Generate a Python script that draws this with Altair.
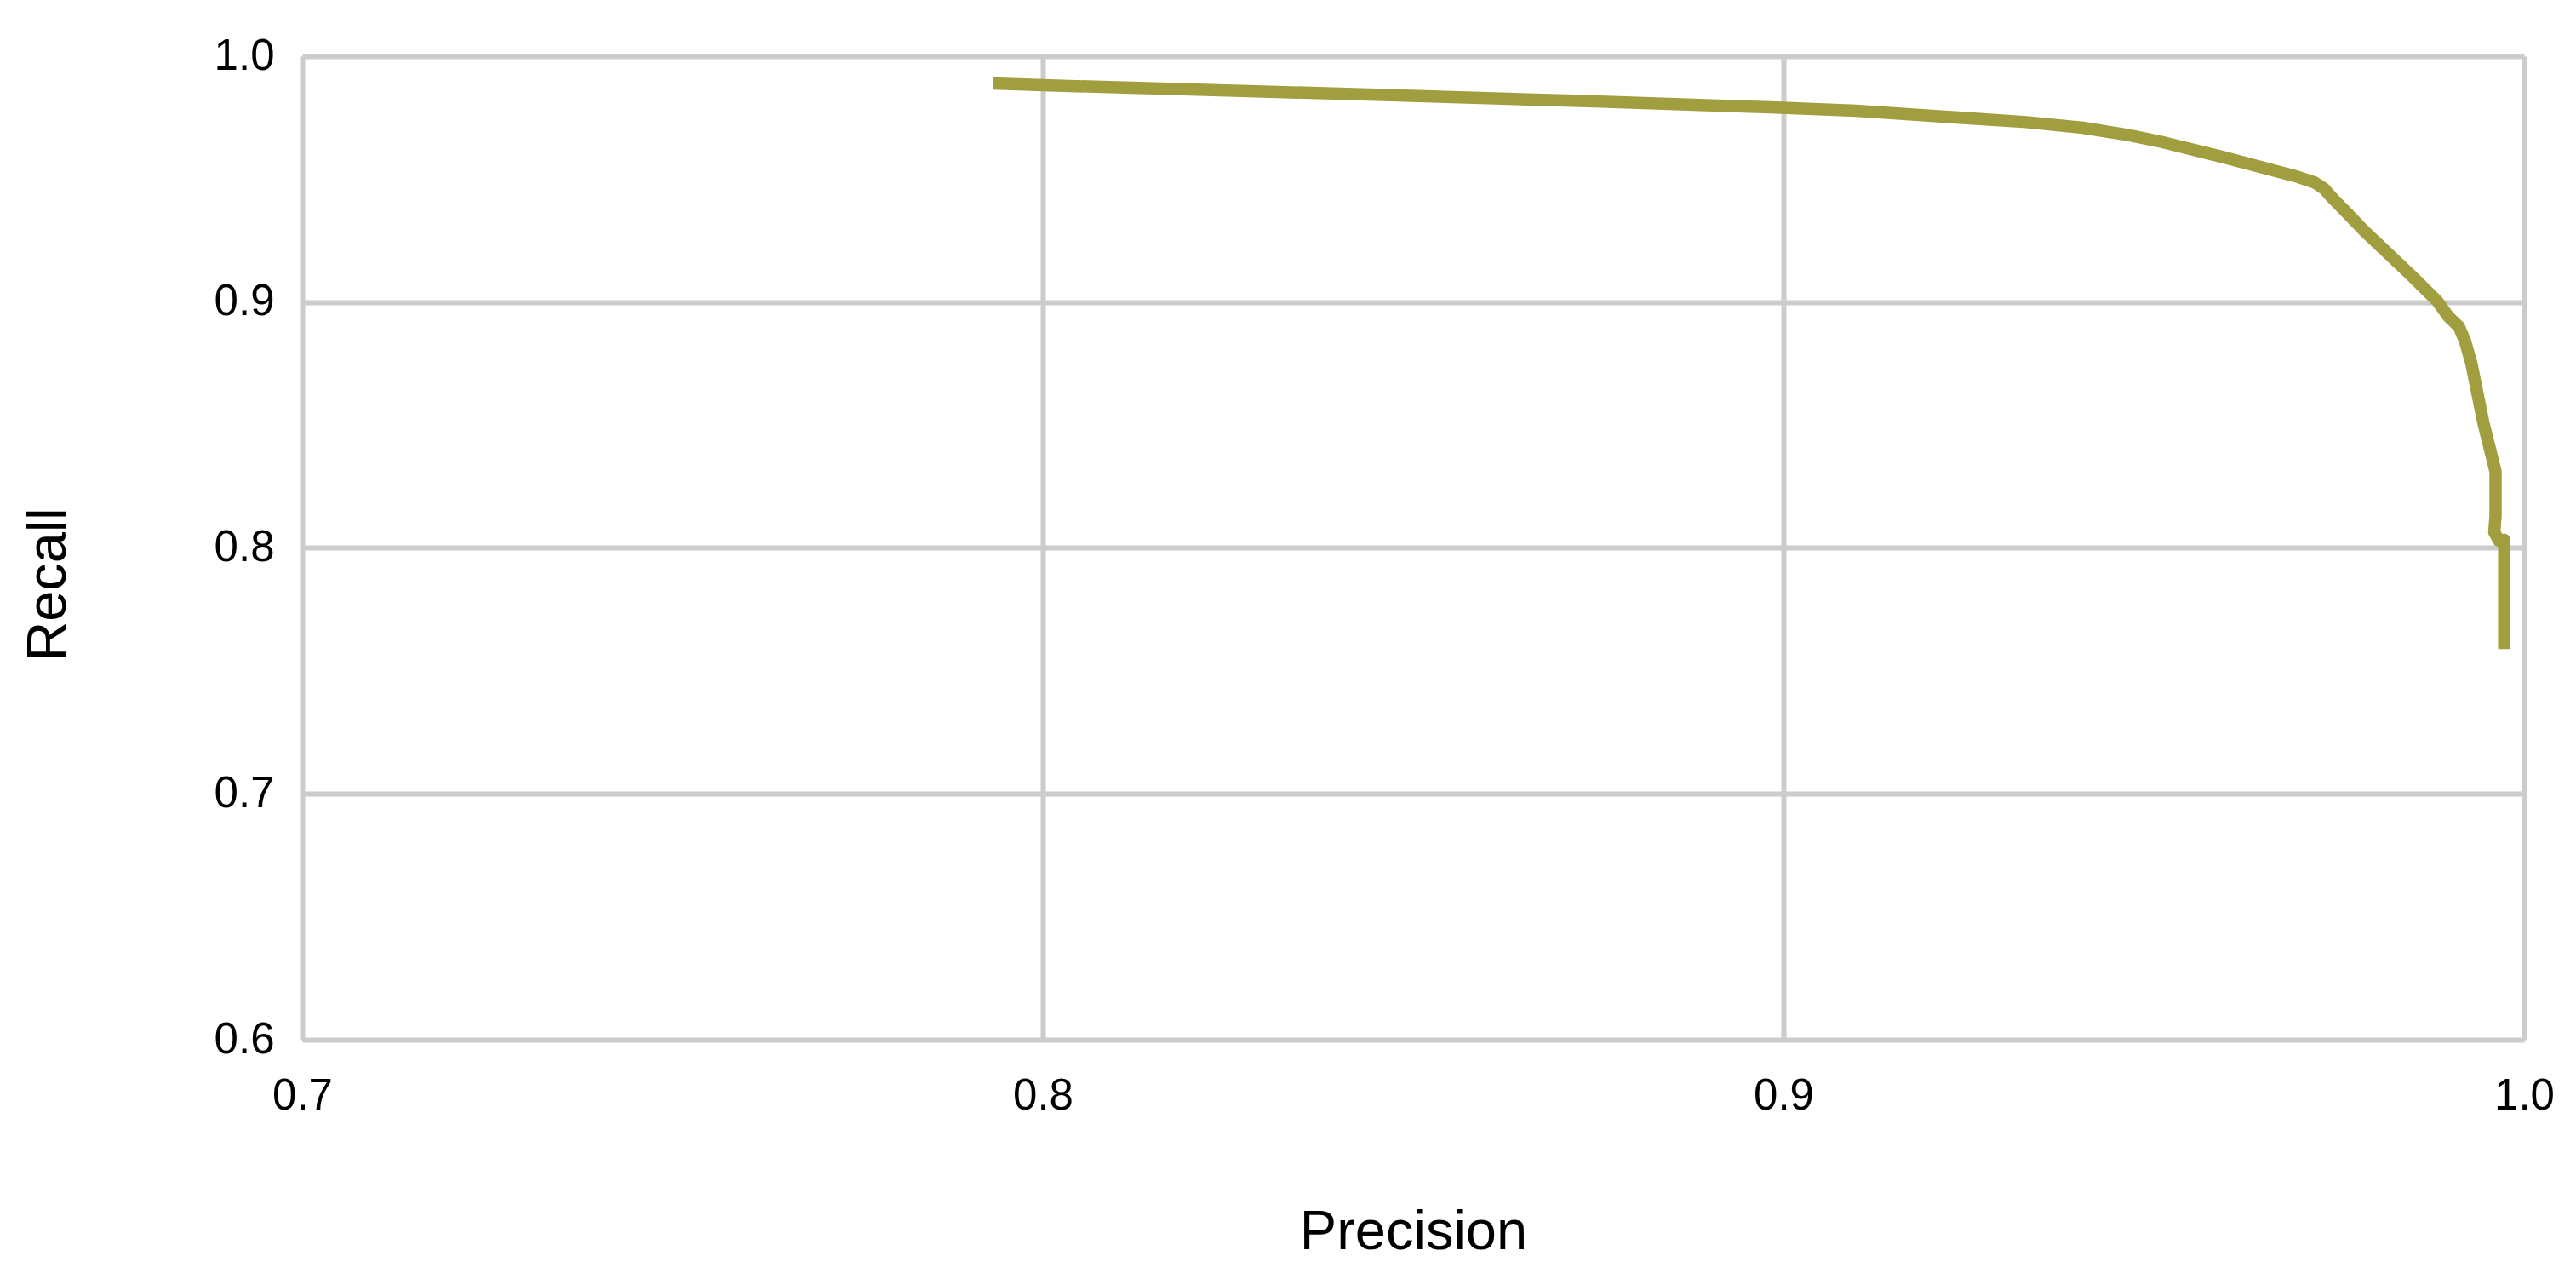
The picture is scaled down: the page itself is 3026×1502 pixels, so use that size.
import altair as alt
import pandas as pd

precision = [0.7933, 0.8000, 0.8431, 0.8736, 0.8983, 0.9098, 0.9213, 0.9328,
             0.9404, 0.9466, 0.9511, 0.9592, 0.9695, 0.9718, 0.9730, 0.9741,
             0.9764, 0.9784, 0.9848, 0.9883, 0.9898, 0.9912, 0.9920, 0.9929,
             0.9945, 0.99615, 0.99615, 0.99598, 0.9966, 0.99732, 0.99732]
recall = [0.9889, 0.9882, 0.9845, 0.9817, 0.9792, 0.9778, 0.9755, 0.9732,
          0.9709, 0.9679, 0.9651, 0.9591, 0.9509, 0.9485, 0.9461, 0.9424,
          0.9353, 0.9290, 0.9107, 0.9003, 0.8940, 0.8900, 0.8844, 0.8749,
          0.8510, 0.8311, 0.8130, 0.8064, 0.8030, 0.8033, 0.7589]

x_ticks = [0.7, 0.8, 0.9, 1.0]
y_ticks = [0.6, 0.7, 0.8, 0.9, 1.0]

df = pd.DataFrame({"precision": precision, "recall": recall,
                   "order": list(range(len(precision)))})

FONT = "Liberation Sans"

chart = alt.Chart(df).mark_line(
    color="#a19e40", strokeWidth=14.5, strokeJoin="round", clip=True
).encode(
    x=alt.X("precision:Q",
            scale=alt.Scale(domain=[0.7, 1.0], nice=False, zero=False),
            axis=alt.Axis(values=x_ticks, format=".1f", title="Precision",
                          grid=True, gridColor="#cccccc", gridWidth=6,
                          domain=False, ticks=False, tickSize=0,
                          labelFlush=False, labelOverlap=False,
                          labelFont=FONT, labelFontSize=51, labelColor="#000000",
                          labelPadding=41,
                          titleFont=FONT, titleFontSize=65, titleColor="#000000",
                          titleFontWeight="normal",
                          titleBaseline="alphabetic", titleY=245)),
    y=alt.Y("recall:Q",
            scale=alt.Scale(domain=[0.6, 1.0], nice=False, zero=False),
            axis=alt.Axis(values=y_ticks, format=".1f", title="Recall",
                          grid=True, gridColor="#cccccc", gridWidth=6,
                          domain=False, ticks=False, tickSize=0,
                          labelFlush=False, labelOverlap=False,
                          labelFont=FONT, labelFontSize=51, labelColor="#000000",
                          labelPadding=33,
                          titleFont=FONT, titleFontSize=65, titleColor="#000000",
                          titleFontWeight="normal",
                          titleAngle=270, titleAlign="center",
                          titleBaseline="alphabetic", titleX=-279, titleY=620)),
    order="order:Q",
).properties(
    width=2610, height=1155,
    autosize=alt.AutoSizeParams(type="none"),
    padding={"left": 347, "top": 58, "right": 53, "bottom": 273},
).configure_view(stroke=None).configure(background="white")

chart.save("out.html", embed_options={"renderer": "svg", "actions": False})
